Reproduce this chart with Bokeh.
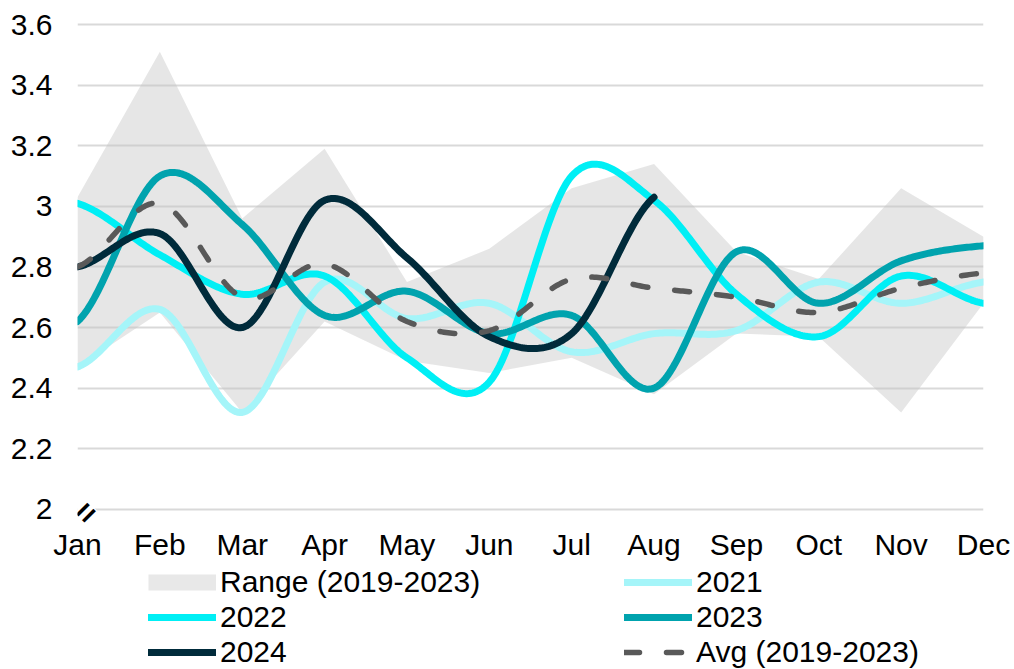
import numpy as np
from math import pi
from bokeh.plotting import figure
from bokeh.layouts import column
from bokeh.models import (Range1d, FixedTicker, Legend, LegendItem, Label,
                          NumeralTickFormatter)
from bokeh.embed import file_html
from bokeh.resources import INLINE

# ---------------- data ----------------
months = ["Jan", "Feb", "Mar", "Apr", "May", "Jun",
          "Jul", "Aug", "Sep", "Oct", "Nov", "Dec"]
range_low = [2.47, 2.65, 2.32, 2.62, 2.49, 2.45, 2.50, 2.38, 2.58, 2.57, 2.32, 2.68]
range_high = [3.03, 3.51, 2.96, 3.19, 2.75, 2.86, 3.06, 3.14, 2.85, 2.76, 3.06, 2.90]
s2021 = [2.47, 2.66, 2.32, 2.75, 2.63, 2.68, 2.52, 2.58, 2.59, 2.75, 2.68, 2.75]
s2022 = [3.01, 2.84, 2.71, 2.77, 2.50, 2.42, 3.10, 3.02, 2.71, 2.57, 2.77, 2.68]
s2023 = [2.62, 3.10, 2.94, 2.64, 2.72, 2.58, 2.64, 2.40, 2.85, 2.68, 2.82, 2.87]
s2024 = [2.80, 2.91, 2.60, 3.02, 2.83, 2.57, 2.58, 3.03]
avg = [2.80, 3.01, 2.70, 2.81, 2.62, 2.59, 2.76, 2.73, 2.70, 2.65, 2.73, 2.78]
y_ticks = [2.0, 2.2, 2.4, 2.6, 2.8, 3.0, 3.2, 3.4, 3.6]

FONT = "Liberation Sans"
C_RANGE = "#E8E8E8"
C21, C22, C23, C24, CAVG = "#A5F5F9", "#00EFF5", "#00A3AE", "#002B3B", "#595959"
LW = 7
AVG_LW = 5.5
AVG_DASH = "15 27"


def smooth(vals, n=40):
    """Catmull-Rom style smoothing (like Excel's smoothed line)."""
    y = np.asarray(vals, dtype=float)
    x = np.arange(len(y), dtype=float)
    m = np.empty_like(y)
    m[1:-1] = (y[2:] - y[:-2]) / 2.0
    m[0] = (y[1] - y[0]) / 2.0
    m[-1] = (y[-1] - y[-2]) / 2.0
    xs, ys = [], []
    t = np.linspace(0, 1, n, endpoint=False)
    h00 = 2 * t**3 - 3 * t**2 + 1
    h10 = t**3 - 2 * t**2 + t
    h01 = -2 * t**3 + 3 * t**2
    h11 = t**3 - t**2
    for i in range(len(y) - 1):
        xs.extend(x[i] + t)
        ys.extend(h00 * y[i] + h10 * m[i] + h01 * y[i + 1] + h11 * m[i + 1])
    xs.append(x[-1])
    ys.append(y[-1])
    return xs, ys


xi = list(range(len(months)))

# ---------------- main chart ----------------
p = figure(width=1014, height=565, x_range=Range1d(0, 11), y_range=Range1d(1.95, 3.61),
           output_backend="svg", toolbar_location=None,
           min_border_left=77, min_border_right=31, min_border_top=21,
           min_border_bottom=41)
p.outline_line_color = None
p.background_fill_color = "white"
p.border_fill_color = "white"

p.xgrid.visible = False
p.ygrid.grid_line_color = "#D9D9D9"
p.ygrid.grid_line_width = 2
p.ygrid.ticker = FixedTicker(ticks=y_ticks)

p.yaxis.ticker = FixedTicker(ticks=y_ticks)
p.yaxis.formatter = NumeralTickFormatter(format="0.[0]")
p.xaxis.ticker = FixedTicker(ticks=xi)
p.xaxis.major_label_overrides = {i: m for i, m in enumerate(months)}
for ax in (p.xaxis, p.yaxis):
    ax.axis_line_color = None
    ax.major_tick_line_color = None
    ax.minor_tick_line_color = None
    ax.major_tick_out = 0
    ax.major_tick_in = 0
    ax.major_label_text_font = FONT
    ax.major_label_text_font_size = "30px"
    ax.major_label_text_color = "#000000"
p.yaxis.major_label_standoff = 25
p.xaxis.major_label_standoff = 3

p.varea(x=xi, y1=range_low, y2=range_high, fill_color="#C4C4C4", fill_alpha=0.42)

for vals, col in ((s2021, C21), (s2022, C22), (s2023, C23), (s2024, C24)):
    xs, ys = smooth(vals)
    p.line(xs, ys, line_color=col, line_width=LW, line_cap="round", line_join="round")
xa, ya = smooth(avg)
p.line(xa, ya, line_color=CAVG, line_width=AVG_LW, line_cap="round",
       line_join="round", line_dash=AVG_DASH)

# axis break mark
brk = Label(x=0, y=2, text="=", angle=pi / 4, x_offset=8, y_offset=-3,
            text_font=FONT, text_font_size="32px", text_font_style="bold",
            text_color="#000000", text_align="center", text_baseline="middle",
            background_fill_color="white")
p.add_layout(brk)

# ---------------- legend strip ----------------
# series are drawn again here, but outside the visible range: only their legend
# glyphs show up.
lf = figure(width=1014, height=104, x_range=Range1d(-100, -99), y_range=Range1d(0, 1),
            output_backend="svg", toolbar_location=None, x_axis_type=None,
            y_axis_type=None, min_border=0)
lf.outline_line_color = None
lf.grid.visible = False

g_range = lf.line(x=xi, y=range_high, line_color=C_RANGE, line_width=16, line_cap="butt")
g21 = lf.line(x=xi, y=s2021, line_color=C21, line_width=LW, line_cap="round")
g22 = lf.line(x=xi, y=s2022, line_color=C22, line_width=LW, line_cap="round")
g23 = lf.line(x=xi, y=s2023, line_color=C23, line_width=LW, line_cap="round")
g24 = lf.line(x=xi[:len(s2024)], y=s2024, line_color=C24, line_width=LW, line_cap="round")
gavg = lf.line(x=xi, y=avg, line_color=CAVG, line_width=AVG_LW, line_cap="round",
               line_dash=AVG_DASH)

legend_kw = dict(glyph_width=68, glyph_height=34, label_height=34, label_standoff=4,
                 spacing=1, padding=0, margin=0, border_line_color=None,
                 background_fill_alpha=0, label_text_font=FONT,
                 label_text_font_size="30px", label_text_color="#000000")
leg1 = Legend(items=[LegendItem(label="Range (2019-2023)", renderers=[g_range]),
                     LegendItem(label="2022", renderers=[g22]),
                     LegendItem(label="2024", renderers=[g24])],
              location=(71, 0), **legend_kw)
leg2 = Legend(items=[LegendItem(label="2021", renderers=[g21]),
                     LegendItem(label="2023", renderers=[g23]),
                     LegendItem(label="Avg (2019-2023)", renderers=[gavg])],
              location=(547, 0), **legend_kw)
lf.add_layout(leg1)
lf.add_layout(leg2)

layout = column(p, lf, spacing=0)
open("out.html", "w").write(file_html(layout, INLINE))
